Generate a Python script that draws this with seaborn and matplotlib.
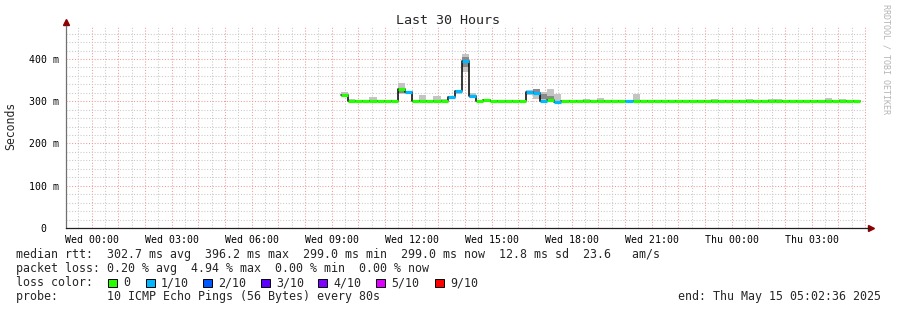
import numpy as np
import pandas as pd
import matplotlib
matplotlib.use("Agg")
import matplotlib.pyplot as plt
import matplotlib.dates as mdates
from matplotlib.patches import Rectangle
from matplotlib.ticker import MultipleLocator, FuncFormatter
import seaborn as sns

sns.set_theme(style="white")
plt.rcParams['font.family'] = ['DejaVu Sans Mono', 'DejaVu Sans']

# ---------------- data ----------------
window_start = "2025-05-13 23:02:36"
window_end = "2025-05-15 05:02:36"
first_sample = "2025-05-14 09:21:00"
sample_step = "16min"

median_ms = [314, 300, 300, 300, 300, 300, 300, 300, 330, 322,
             300, 300, 300, 300, 300, 309, 325, 395, 313, 300,
             303, 300, 300, 300, 300, 300, 323, 320, 300, 304,
             299, 300, 300, 300, 300, 300, 300, 300, 300, 300,
             300, 300, 300, 300, 300, 300, 300, 300, 300, 300,
             300, 300, 300, 300, 300, 300, 300, 300, 300, 300,
             300, 300, 300, 300, 300, 300, 300, 300, 300, 300,
             300, 300, 300]
lost_pings = [0, 0, 0, 0, 0, 0, 0, 0, 0, 1,
              0, 0, 0, 0, 0, 1, 1, 1, 1, 0,
              0, 0, 0, 0, 0, 0, 1, 1, 1, 0,
              1, 0, 0, 0, 0, 0, 0, 0, 0, 0,
              1, 0, 0, 0, 0, 0, 0, 0, 0, 0,
              0, 0, 0, 0, 0, 0, 0, 0, 0, 0,
              0, 0, 0, 0, 0, 0, 0, 0, 0, 0,
              0, 0, 0]
smoke_hi_ms = [323, 305, 304, 304, 310, 302, 302, 301, 343, 325,
               301, 314, 301, 312, 305, 311, 327, 412, 319, 301,
               304, 302, 301, 301, 301, 302, 326, 328, 322, 330,
               316, 301, 301, 301, 306, 301, 308, 301, 301, 301,
               301, 316, 301, 302, 301, 301, 303, 303, 301, 301,
               301, 303, 305, 303, 303, 301, 303, 306, 303, 303,
               305, 305, 301, 301, 301, 301, 301, 301, 307, 304,
               305, 302, 302]
smoke_lo_ms = [310, 299, 299, 299, 299, 299, 299, 299, 317, 318,
               299, 299, 299, 299, 299, 305, 318, 370, 308, 299,
               299, 299, 299, 299, 299, 299, 314, 305, 300, 302,
               300, 299, 299, 299, 299, 299, 299, 299, 299, 299,
               299, 300, 299, 299, 299, 299, 299, 299, 299, 299,
               299, 299, 299, 299, 299, 299, 299, 299, 299, 299,
               299, 299, 299, 299, 299, 299, 299, 299, 299, 299,
               299, 299, 299]
nan = np.nan
core_hi_ms = [320, nan, nan, nan, nan, nan, nan, nan, 328, 324,
              nan, nan, nan, nan, nan, nan, nan, 405, 318, nan,
              nan, nan, nan, nan, nan, nan, 325, 328, 316, 312,
              310, nan, nan, nan, nan, nan, nan, nan, nan, nan,
              nan, 310, nan, nan, nan, nan, nan, nan, nan, nan,
              nan, nan, nan, nan, nan, nan, nan, nan, nan, nan,
              nan, nan, nan, nan, nan, nan, nan, nan, nan, nan,
              nan, nan, nan]
core_lo_ms = [314, nan, nan, nan, nan, nan, nan, nan, 320, 320,
              nan, nan, nan, nan, nan, nan, nan, 380, 310, nan,
              nan, nan, nan, nan, nan, nan, 318, 318, 306, 304,
              302, nan, nan, nan, nan, nan, nan, nan, nan, nan,
              nan, 302, nan, nan, nan, nan, nan, nan, nan, nan,
              nan, nan, nan, nan, nan, nan, nan, nan, nan, nan,
              nan, nan, nan, nan, nan, nan, nan, nan, nan, nan,
              nan, nan, nan]

loss_labels = ["0", "1/10", "2/10", "3/10", "4/10", "5/10", "9/10"]
loss_colors = ["#26ff00", "#00b8ff", "#0059ff", "#5e00ff", "#7e00ff", "#dd00ff", "#ff0000"]
y_ticks = [0, 100, 200, 300, 400]
y_tick_labels = ["0  ", "100 m", "200 m", "300 m", "400 m"]

stats_line1 = "median rtt:  302.7 ms avg  396.2 ms max  299.0 ms min  299.0 ms now  12.8 ms sd  23.6   am/s"
stats_line2 = "packet loss: 0.20 % avg  4.94 % max  0.00 % min  0.00 % now"
probe_line = "probe:       10 ICMP Echo Pings (56 Bytes) every 80s"
end_line = "end: Thu May 15 05:02:36 2025"

# ---------------- figure ----------------
W, H = 897, 310
fig = plt.figure(figsize=(W / 100, H / 100), dpi=100)
fig.patch.set_facecolor("white")
ax = fig.add_axes([66.2 / W, 82 / H, 800 / W, 202 / H])
ax.set_facecolor("white")

n = len(median_ms)
times = pd.date_range(first_sample, periods=n + 1, freq=sample_step)
tnum = mdates.date2num(times.to_pydatetime())
left, right = tnum[:-1], tnum[1:]

med = np.array(median_ms, float)
hi = np.array(smoke_hi_ms, float)
lo = np.array(smoke_lo_ms, float)
chi = np.array(core_hi_ms, float)
clo = np.array(core_lo_ms, float)

# smoke
ax.fill_between(tnum, np.append(lo, lo[-1]), np.append(hi, hi[-1]), step="post",
                color="#c4c4c4", lw=0, zorder=2)
ax.fill_between(tnum, np.append(clo, clo[-1]), np.append(chi, chi[-1]), step="post",
                color="#8a8a8a", lw=0, zorder=2.5)

# black median step line
df = pd.DataFrame({"t": tnum, "rtt": np.append(med, med[-1])})
sns.lineplot(data=df, x="t", y="rtt", drawstyle="steps-post", color="black",
             lw=1.1, ax=ax, zorder=3, estimator=None)
# loss-coloured median segments
seg_colors = [loss_colors[k] for k in lost_pings]
ax.hlines(med, left, right, colors=seg_colors, lw=2.3, zorder=4)

# axes limits
x0 = mdates.date2num(pd.Timestamp(window_start).to_pydatetime())
x1 = mdates.date2num(pd.Timestamp(window_end).to_pydatetime())
ax.set_xlim(x0, x1)
ax.set_ylim(0, 478)

# grid
red = "#f09a9a"
gray = "#c8c8c8"
ax.xaxis.set_major_locator(mdates.HourLocator(interval=1))
ax.xaxis.set_minor_locator(mdates.MinuteLocator(byminute=[30]))

def xfmt(v, pos):
    d = mdates.num2date(v)
    if d.hour % 3 == 0 and d.minute == 0:
        return d.strftime("%a %H:%M")
    return ""

ax.xaxis.set_major_formatter(FuncFormatter(xfmt))
ax.set_yticks(y_ticks)
ax.set_yticklabels(y_tick_labels)
ax.yaxis.set_minor_locator(MultipleLocator(20))
ax.grid(which="major", color=red, ls=(0, (1, 1.7)), lw=0.75, zorder=0)
ax.grid(which="minor", color=gray, ls=(0, (1, 1.7)), lw=0.75, zorder=0)
ax.set_axisbelow(True)

ax.tick_params(axis="x", which="major", length=2, color=red, pad=3, labelsize=7.1, labelcolor="black")
ax.tick_params(axis="x", which="minor", length=0)
ax.tick_params(axis="y", which="major", length=2, color=red, pad=3.5, labelsize=7.1, labelcolor="black")
ax.tick_params(axis="y", which="minor", length=0)
ax.set_xlabel("")
ax.set_ylabel("")

for s in ["top", "right"]:
    ax.spines[s].set_visible(False)
ax.spines["left"].set_color("#707070")
ax.spines["left"].set_linewidth(0.9)
ax.spines["bottom"].set_color("#202020")
ax.spines["bottom"].set_linewidth(0.9)
ax.spines["bottom"].set_bounds(x0, x1 + (x1 - x0) * 0.003)

# arrows
ax.plot([0], [1.02], marker="^", ms=4, color="#8b0000", transform=ax.transAxes, clip_on=False)
ax.plot([1.006], [0], marker=">", ms=4, color="#8b0000", transform=ax.transAxes, clip_on=False)

def fx(px):
    return px / W

def fy(py):
    return 1 - py / H

mono = "DejaVu Sans Mono"
fig.text(fx(448), fy(24), "Last 30 Hours", ha="center", va="baseline", fontsize=9.6, family=mono)
fig.text(fx(11), fy(126), "Seconds", ha="center", va="center", rotation=90, fontsize=8.3, family=mono)
fig.text(fx(886), fy(4), "RRDTOOL / TOBI OETIKER", ha="center", va="top", rotation=270,
         fontsize=6, family=mono, color="#b4b4b4")

fs = 8.35
fig.text(fx(16), fy(258), stats_line1, ha="left", va="baseline", fontsize=fs, family=mono)
fig.text(fx(16), fy(272), stats_line2, ha="left", va="baseline", fontsize=fs, family=mono)
fig.text(fx(16), fy(286), "loss color:", ha="left", va="baseline", fontsize=fs, family=mono)
box_x = [108, 146, 203, 261, 318, 376, 435]
for bx, lab, col in zip(box_x, loss_labels, loss_colors):
    fig.add_artist(Rectangle((fx(bx), fy(287)), 8.5 / W, 8.5 / H, transform=fig.transFigure,
                             facecolor=col, edgecolor="black", lw=0.7))
    fig.text(fx(bx + 15), fy(286), lab, ha="left", va="baseline", fontsize=fs, family=mono)
fig.text(fx(16), fy(300), probe_line, ha="left", va="baseline", fontsize=fs, family=mono)
fig.text(fx(881), fy(300), end_line, ha="right", va="baseline", fontsize=fs, family=mono)

fig.savefig("out.png", dpi=100, facecolor="white")
